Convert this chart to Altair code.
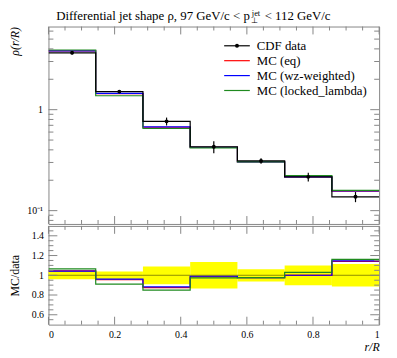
import altair as alt
import pandas as pd

# ---------------- data ----------------
bin_edges = [0.0, 0.142857, 0.285714, 0.428571, 0.571429, 0.714286, 0.857143, 1.0]
data_vals = [3.66, 1.51, 0.766, 0.429, 0.311, 0.216, 0.137]
data_rel_err = [0.040, 0.037, 0.090, 0.135, 0.062, 0.100, 0.115]
mc_eq = [3.82, 1.442, 0.670, 0.4226, 0.3032, 0.2158, 0.1562]
mc_wz = [3.817, 1.450, 0.676, 0.4247, 0.3035, 0.2160, 0.1570]
mc_ll = [3.90, 1.374, 0.651, 0.4180, 0.3035, 0.2225, 0.1590]

series_names = ["MC (eq)", "MC (wz-weighted)", "MC (locked_lambda)"]
series_colors = ["#ff0000", "#0000ff", "#1f8a1f"]
legend_labels = ["CDF data", "MC (eq)", "MC (wz-weighted)", "MC (locked_lambda)"]
legend_colors = ["#000000", "#ff0000", "#0000ff", "#1f8a1f"]

x_major_ticks = [0.0, 0.2, 0.4, 0.6, 0.8, 1.0]
x_minor_ticks = [0.05, 0.1, 0.15, 0.25, 0.3, 0.35, 0.45, 0.5, 0.55, 0.65, 0.7, 0.75, 0.85, 0.9, 0.95]
y_top_major_ticks = [0.1, 1.0]
y_top_minor_ticks = [0.08, 0.09, 0.2, 0.3, 0.4, 0.5, 0.6, 0.7, 0.8, 0.9, 2.0, 3.0, 4.0, 5.0, 6.0]
y_ratio_major_ticks = [0.6, 0.8, 1.0, 1.2, 1.4]
y_ratio_minor_ticks = [0.55, 0.65, 0.7, 0.75, 0.85, 0.9, 0.95, 1.05, 1.1, 1.15, 1.25, 1.3, 1.35, 1.45]

W, H1, H2 = 335, 200, 100
FONT = "Liberation Serif"
FRAME = "#858585"

x_scale = alt.Scale(domain=[0, 1], nice=False, zero=False)
y_top_scale = alt.Scale(type="log", domain=[0.0738, 6.66], nice=False)
y_rat_scale = alt.Scale(domain=[0.5, 1.5], nice=False, zero=False)

x_axis_top = alt.Axis(labels=False, ticks=False, domain=False, grid=False, title=None)
y_axis_top = alt.Axis(values=[0.1, 1.0], labelExpr="datum.value == 1 ? '1' : '10⁻¹'",
                      ticks=False, domain=False, grid=False, title="ρ(r/R)",
                      titleAnchor="end", titleFontStyle="italic", titleFontWeight="normal",
                      labelPadding=6, titlePadding=5, labelFontSize=10)
x_axis_bot = alt.Axis(values=x_major_ticks,
                      labelExpr="datum.value == 0 ? '0' : datum.value == 1 ? '1' : format(datum.value, '.1f')",
                      ticks=False, domain=False, grid=False, title="r/R", titleAnchor="end",
                      titleFontStyle="italic", titleFontWeight="normal", labelPadding=5, titlePadding=2,
                      labelFontSize=10)
y_axis_bot = alt.Axis(values=y_ratio_major_ticks,
                      labelExpr="datum.value == 1 ? '1' : format(datum.value, '.1f')",
                      ticks=False, domain=False, grid=False, title="MC/data",
                      titleFontWeight="normal", labelPadding=5, titlePadding=10, labelFontSize=10)


def step_df(vals):
    return pd.DataFrame({"x": bin_edges, "y": list(vals) + [vals[-1]]})


def xenc(axis):
    return alt.X("x:Q", scale=x_scale, axis=axis)


def tick_layers(xaxis, yfield_scale, yaxis, h, ymaj, ymin):
    layers = []
    for ticks, L in ((x_major_ticks, 8), (x_minor_ticks, 4)):
        df = pd.DataFrame({"x": ticks})
        layers.append(alt.Chart(df).mark_rule(color=FRAME, strokeWidth=1).encode(
            x=xenc(xaxis), y=alt.value(0), y2=alt.value(L)))
        layers.append(alt.Chart(df).mark_rule(color=FRAME, strokeWidth=1).encode(
            x=xenc(xaxis), y=alt.value(h), y2=alt.value(h - L)))
    for ticks, L in ((ymaj, 9), (ymin, 5)):
        df = pd.DataFrame({"y": ticks})
        yy = alt.Y("y:Q", scale=yfield_scale, axis=yaxis)
        layers.append(alt.Chart(df).mark_rule(color=FRAME, strokeWidth=1).encode(
            y=yy, x=alt.value(0), x2=alt.value(L)))
        layers.append(alt.Chart(df).mark_rule(color=FRAME, strokeWidth=1).encode(
            y=yy, x=alt.value(W), x2=alt.value(W - L)))
    return layers


# ---------------- top panel ----------------
top_layers = []
ytop = alt.Y("y:Q", scale=y_top_scale, axis=y_axis_top)
for vals, col in zip([mc_eq, mc_wz, mc_ll], series_colors):
    top_layers.append(alt.Chart(step_df(vals)).mark_line(
        interpolate="step-after", color=col, strokeWidth=1.2, clip=True).encode(x=xenc(x_axis_top), y=ytop))
top_layers.append(alt.Chart(step_df(data_vals)).mark_line(
    interpolate="step-after", color="black", strokeWidth=1.2, clip=True).encode(x=xenc(x_axis_top), y=ytop))

centers = [(bin_edges[i] + bin_edges[i + 1]) / 2 for i in range(len(data_vals))]
pts = pd.DataFrame({
    "x": centers,
    "y": data_vals,
    "lo": [v * (1 - e) for v, e in zip(data_vals, data_rel_err)],
    "hi": [v * (1 + e) for v, e in zip(data_vals, data_rel_err)],
})
top_layers.append(alt.Chart(pts).mark_rule(color="black", strokeWidth=1.2).encode(
    x=xenc(x_axis_top), y=alt.Y("lo:Q", scale=y_top_scale, axis=y_axis_top), y2="hi:Q"))
top_layers.append(alt.Chart(pts).mark_point(filled=True, color="black", size=16, opacity=1).encode(
    x=xenc(x_axis_top), y=ytop))

top_layers += tick_layers(x_axis_top, y_top_scale, y_axis_top, H1, y_top_major_ticks, y_top_minor_ticks)

# legend
leg_y0, leg_dy = 19.5, 15.1
for i, (lab, col) in enumerate(zip(legend_labels, legend_colors)):
    yy = leg_y0 + i * leg_dy
    one = pd.DataFrame({"label": [lab]})
    top_layers.append(alt.Chart(one).mark_rule(color=col, strokeWidth=1.2).encode(
        x=alt.value(178), x2=alt.value(204), y=alt.value(yy)))
    top_layers.append(alt.Chart(one).mark_text(align="left", baseline="middle", font=FONT,
                                               fontSize=13, color="black").encode(
        x=alt.value(211), y=alt.value(yy + 0.5), text="label:N"))
    if i == 0:
        top_layers.append(alt.Chart(one).mark_point(filled=True, color="black", size=16, opacity=1).encode(
            x=alt.value(191), y=alt.value(yy)))

# title pieces
title_parts = [
    ("Differential jet shape ρ, 97 GeV/c < p", 204, -7.0, 13, "right"),
    ("jet", 206, -11.0, 8.5, "left"),
    ("⊥", 205.5, -3.5, 8.5, "left"),
    ("< 112 GeV/c", 219, -7.0, 13, "left"),
]
for txt, tx, ty, fs, al in title_parts:
    one = pd.DataFrame({"label": [txt]})
    top_layers.append(alt.Chart(one).mark_text(align=al, baseline="alphabetic", font=FONT,
                                               fontSize=fs, color="black").encode(
        x=alt.value(tx), y=alt.value(ty), text="label:N"))

top = alt.layer(*top_layers).properties(width=W, height=H1)

# ---------------- ratio panel ----------------
bot_layers = []
band = pd.DataFrame({
    "x": bin_edges[:-1],
    "x2": bin_edges[1:],
    "lo": [1 - e for e in data_rel_err],
    "hi": [1 + e for e in data_rel_err],
})
bot_layers.append(alt.Chart(band).mark_rect(color="#ffff00").encode(
    x=xenc(x_axis_bot), x2="x2:Q", y=alt.Y("lo:Q", scale=y_rat_scale, axis=y_axis_bot), y2="hi:Q"))
bot_layers.append(alt.Chart(pd.DataFrame({"y": [1.0]})).mark_rule(color="black", opacity=0.45, strokeWidth=1).encode(
    y=alt.Y("y:Q", scale=y_rat_scale, axis=y_axis_bot)))
yrat = alt.Y("y:Q", scale=y_rat_scale, axis=y_axis_bot)
for vals, col in zip([mc_eq, mc_wz, mc_ll], series_colors):
    ratios = [m / d for m, d in zip(vals, data_vals)]
    bot_layers.append(alt.Chart(step_df(ratios)).mark_line(
        interpolate="step-after", color=col, strokeWidth=1.2, clip=True).encode(x=xenc(x_axis_bot), y=yrat))
bot_layers += tick_layers(x_axis_bot, y_rat_scale, y_axis_bot, H2, y_ratio_major_ticks, y_ratio_minor_ticks)

bottom = alt.layer(*bot_layers).properties(width=W, height=H2)

chart = alt.vconcat(top, bottom, spacing=0).properties(
    autosize=alt.AutoSizeParams(type="none"),
    padding={"left": 41, "top": 16.5, "right": 10, "bottom": 331},
).configure_view(
    stroke=FRAME, strokeWidth=1
).configure_axis(
    labelFont=FONT, titleFont=FONT, labelColor="black", titleColor="black",
    titleFontSize=12
)

chart.save("out.html", embed_options={"renderer": "svg", "actions": False})
